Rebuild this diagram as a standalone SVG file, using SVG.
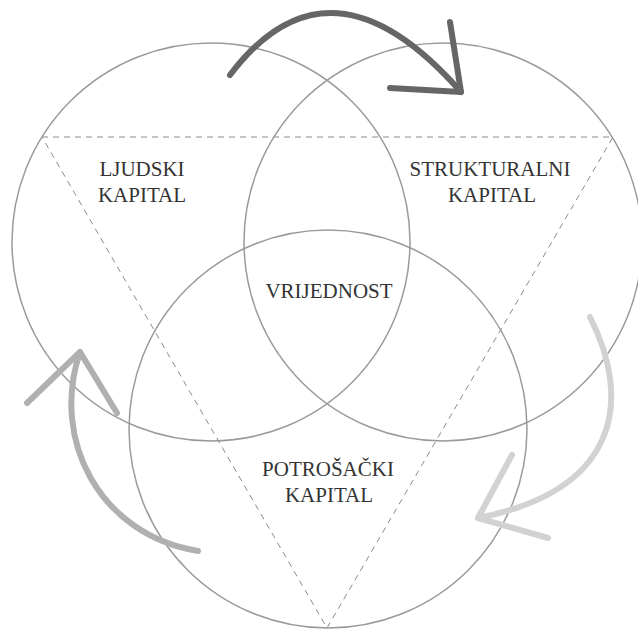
<svg xmlns="http://www.w3.org/2000/svg" width="638" height="629" viewBox="0 0 638 629">
  <style>
    .ring { fill: none; stroke: #9a9a9a; stroke-width: 1.5; }
    .tri { fill: none; stroke: #8a8a8a; stroke-width: 1; stroke-dasharray: 6 5; }
    .lbl { font-family: "Liberation Serif", "Times New Roman", serif; font-size: 21px; fill: #333333; text-anchor: middle; }
    .arr { fill: none; stroke-width: 6; stroke-linecap: round; stroke-linejoin: round; }
  </style>
  <rect width="638" height="629" fill="#ffffff"/>
  <g id="triangle">
    <polygon class="tri" points="42,137 613,137 327,628"/>
  </g>
  <g id="ljudski">
    <circle class="ring" cx="211" cy="242" r="199"/>
    <text class="lbl" x="142" y="176">LJUDSKI</text>
    <text class="lbl" x="142" y="202">KAPITAL</text>
  </g>
  <g id="strukturalni">
    <circle class="ring" cx="443" cy="242" r="199"/>
    <text class="lbl" x="490" y="176">STRUKTURALNI</text>
    <text class="lbl" x="492" y="202">KAPITAL</text>
  </g>
  <g id="potrosacki">
    <circle class="ring" cx="328" cy="429" r="199"/>
    <text class="lbl" x="328" y="476">POTROŠAČKI</text>
    <text class="lbl" x="329" y="502">KAPITAL</text>
  </g>
  <g id="vrijednost">
    <text class="lbl" x="329" y="298">VRIJEDNOST</text>
  </g>
  <g id="connectors">
    <g class="arr" stroke="#666666">
      <path d="M230,75 Q330,-57 461,92"/>
      <path d="M450,22 L461,92 L390,88"/>
    </g>
    <g class="arr" stroke="#b0b0b0">
      <path d="M198,551 C100,535 50,440 80,352"/>
      <path d="M27,403 L80,352 L117,413"/>
    </g>
    <g class="arr" stroke="#d2d2d2">
      <path d="M590,317 C632,400 620,490 478,518"/>
      <path d="M512,455 L478,518 L548,538"/>
    </g>
  </g>
</svg>
